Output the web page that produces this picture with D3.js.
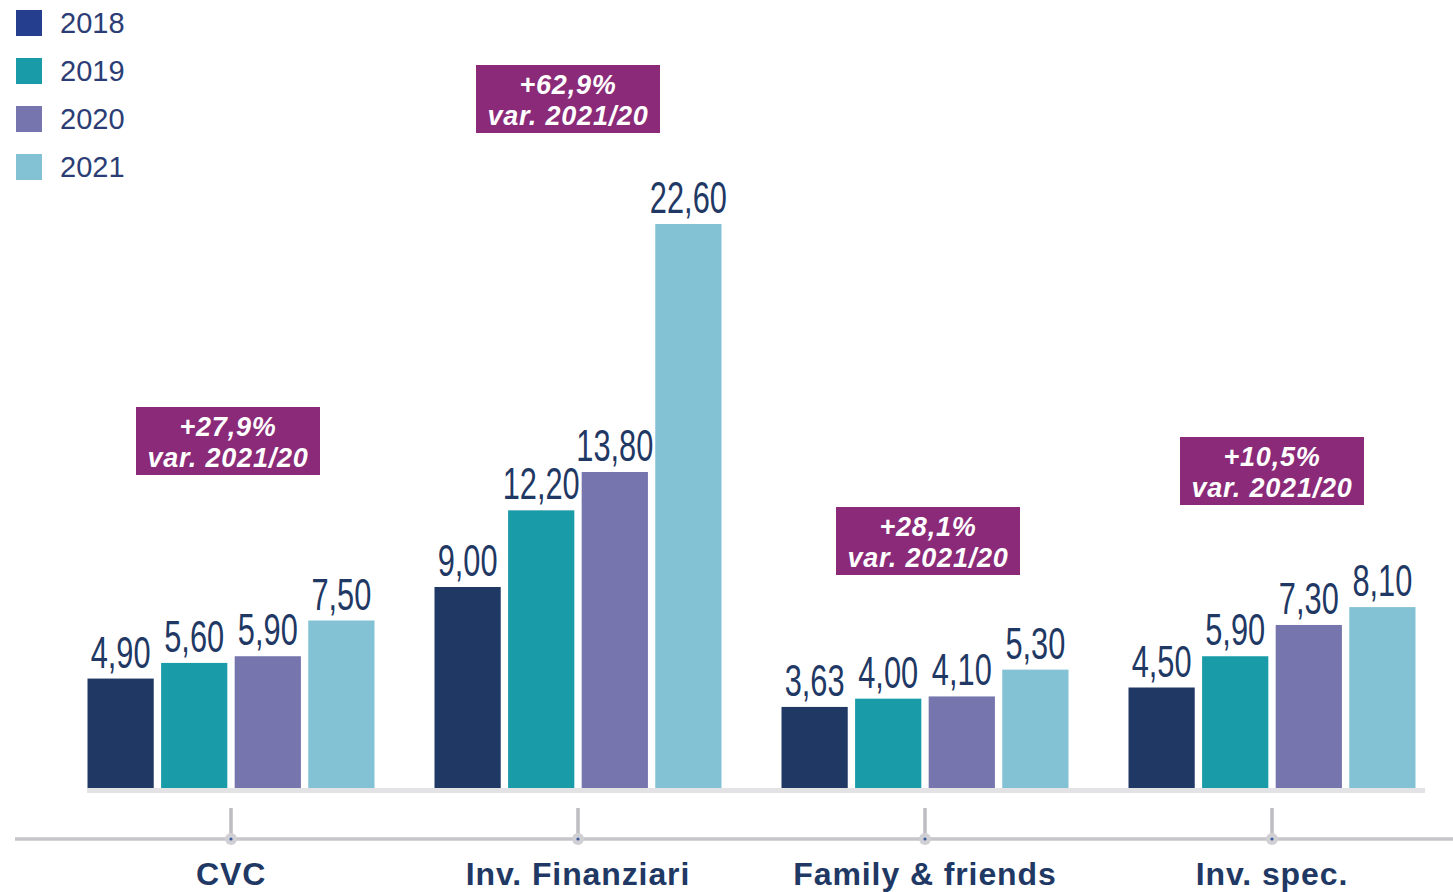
<!DOCTYPE html>
<html>
<head>
<meta charset="utf-8">
<script src="https://cdn.jsdelivr.net/npm/d3@7"></script>
<style>
  body { margin: 0; background: #fff; }
</style>
</head>
<body>
<div id="chart"></div>
<script>
const categories = ["CVC", "Inv. Finanziari", "Family & friends", "Inv. spec."];
const years = ["2018", "2019", "2020", "2021"];
const values2018 = [4.9, 9.0, 3.63, 4.5];
const values2019 = [5.6, 12.2, 4.0, 5.9];
const values2020 = [5.9, 13.8, 4.1, 7.3];
const values2021 = [7.5, 22.6, 5.3, 8.1];
const varLabels = ["+27,9%", "+62,9%", "+28,1%", "+10,5%"];

const colors = ["#1f3864", "#1a9ca8", "#7675ae", "#83c1d4"];
// purple boxes: top and horizontal nudge (layout only)
const boxTop = [407, 65, 507, 437];
const boxDx = [-3, -10, 3, 0];

const width = 1453,
  height = 892;

const series = [values2018, values2019, values2020, values2021];
const fmt = (v) => v.toFixed(2).replace(".", ",");

const svg = d3
  .select("#chart")
  .append("svg")
  .attr("width", width)
  .attr("height", height);

const x0 = d3.scaleBand().domain(categories).range([57.5, 1445.5]).padding(0);
const x1 = d3.scaleBand().domain(years).range([30, 317]).paddingInner(0.1);

// the original bars are not drawn strictly to scale: the tallest ones are stretched
const y = d3.scaleLinear().domain([0, 9, 13.8, 22.6]).range([788, 587, 472, 224]);

// baseline band
svg
  .append("rect")
  .attr("x", 87)
  .attr("y", 788)
  .attr("width", 1338)
  .attr("height", 5)
  .attr("fill", "#e3e3e6");

// lower axis line
svg
  .append("line")
  .attr("x1", 15)
  .attr("x2", width)
  .attr("y1", 839)
  .attr("y2", 839)
  .attr("stroke", "#c6c6ca")
  .attr("stroke-width", 3.5);

const ticks = svg
  .selectAll(".tick")
  .data(categories)
  .join("g")
  .attr("class", "tick")
  .attr("transform", (d) => `translate(${x0(d) + x0.bandwidth() / 2},0)`);

ticks
  .append("line")
  .attr("y1", 808)
  .attr("y2", 836)
  .attr("stroke", "#bdbdc2")
  .attr("stroke-width", 3.5);
ticks
  .append("circle")
  .attr("cy", 839)
  .attr("r", 6)
  .attr("fill", "#cfcfd4");
ticks
  .append("circle")
  .attr("cy", 839)
  .attr("r", 1.6)
  .attr("fill", "#3a5a9a");
ticks
  .append("text")
  .attr("y", 885)
  .attr("text-anchor", "middle")
  .attr("font-family", "'Liberation Sans', Arial, sans-serif")
  .attr("font-weight", "bold")
  .attr("font-size", 32)
  .attr("letter-spacing", 0.9)
  .attr("fill", "#1f3864")
  .text((d) => d);

// bars
const groups = svg
  .selectAll(".grp")
  .data(categories)
  .join("g")
  .attr("class", "grp")
  .attr("transform", (d) => `translate(${x0(d)},0)`);

const cells = groups
  .selectAll("g")
  .data((d, i) => years.map((yr, j) => ({ yr: yr, j: j, v: series[j][i] })))
  .join("g");

cells
  .append("rect")
  .attr("x", (d) => x1(d.yr))
  .attr("y", (d) => y(d.v))
  .attr("width", x1.bandwidth())
  .attr("height", (d) => y(0) - y(d.v))
  .attr("fill", (d) => colors[d.j]);

cells
  .append("text")
  .attr(
    "transform",
    (d) => `translate(${x1(d.yr) + x1.bandwidth() / 2},${y(d.v) - 11}) scale(0.7,1)`
  )
  .attr("text-anchor", "middle")
  .attr("font-family", "'Liberation Sans', Arial, sans-serif")
  .attr("font-size", 44)
  .attr("fill", "#1f3864")
  .text((d) => fmt(d.v));

// variation boxes
const boxes = svg
  .selectAll(".box")
  .data(categories)
  .join("g")
  .attr("class", "box")
  .attr(
    "transform",
    (d, i) => `translate(${x0(d) + x0.bandwidth() / 2 + boxDx[i]},${boxTop[i]})`
  );

boxes
  .append("rect")
  .attr("x", -92)
  .attr("width", 184)
  .attr("height", 68)
  .attr("fill", "#8a2a78");

boxes
  .append("text")
  .attr("text-anchor", "middle")
  .attr("font-family", "'Liberation Sans', Arial, sans-serif")
  .attr("font-weight", "bold")
  .attr("font-style", "italic")
  .attr("font-size", 27)
  .attr("letter-spacing", 0.8)
  .attr("fill", "#fff")
  .selectAll("tspan")
  .data((d, i) => [varLabels[i], "var. 2021/20"])
  .join("tspan")
  .attr("x", 0)
  .attr("y", (d, k) => 29 + k * 31)
  .text((d) => d);

// legend
const legend = svg
  .selectAll(".leg")
  .data(years)
  .join("g")
  .attr("class", "leg")
  .attr("transform", (d, i) => `translate(16,${10 + i * 48})`);

legend
  .append("rect")
  .attr("width", 26)
  .attr("height", 26)
  .attr("fill", (d, i) => (i === 0 ? "#253f8e" : colors[i]));

legend
  .append("text")
  .attr("x", 44)
  .attr("y", 23)
  .attr("font-family", "'Liberation Sans', Arial, sans-serif")
  .attr("font-size", 29)
  .attr("fill", "#2b3d74")
  .text((d) => d);
</script>
</body>
</html>
